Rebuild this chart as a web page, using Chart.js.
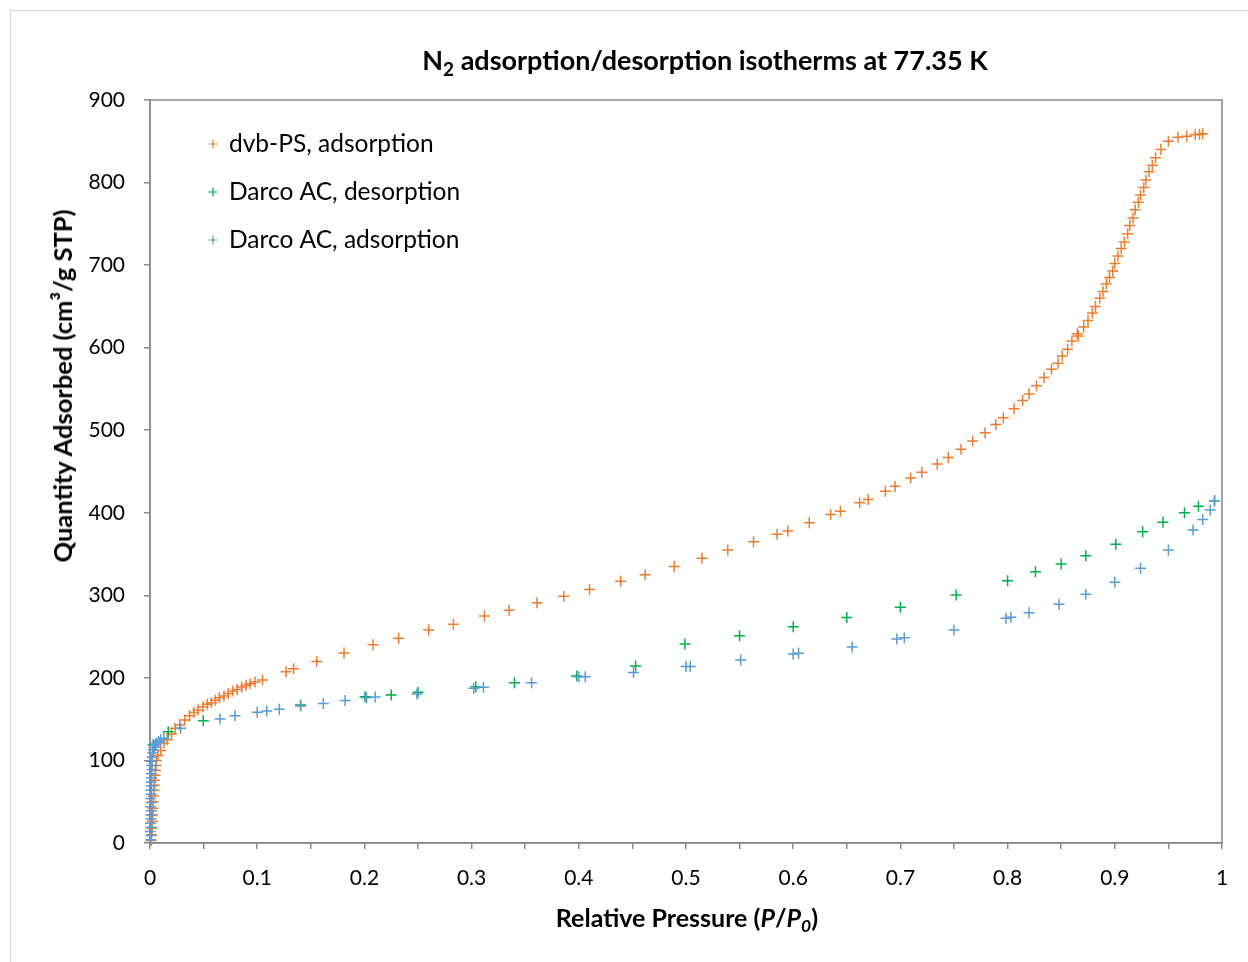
<!DOCTYPE html>
<html lang="en">
<head>
<meta charset="UTF-8" />
<title>N2 adsorption/desorption isotherms at 77.35 K</title>
<script src="https://cdn.jsdelivr.net/npm/chart.js@4.4.1/dist/chart.umd.min.js"></script>
<style>
/* ─── PAGE ───────────────────────────────────────────────────────── */
*,*::before,*::after{box-sizing:border-box}
html,body{margin:0;padding:0;background:#fff;overflow:hidden}
body{width:1248px;height:962px;position:relative;font-family:Lato,sans-serif;color:#000}
.frame{position:absolute;left:10px;top:10px;width:1250px;height:970px;border:1px solid #d9d9d9}
.wrap{position:absolute;left:0;top:0;width:1248px;height:962px}

/* ─── TITLES (html so sub/italic work) ───────────────────────────── */
.title{position:absolute;left:305px;width:800px;top:44px;text-align:center;font-weight:bold;font-size:27px;line-height:32px}
.xtitle{position:absolute;left:387px;width:600px;top:902px;text-align:center;font-weight:bold;font-size:25px;line-height:30px}
.ytitle{position:absolute;left:62px;top:386px;transform:translate(-50%,-50%) rotate(-90deg);white-space:nowrap;font-weight:bold;font-size:25.5px;line-height:30px}
sub{font-size:.7em;vertical-align:-.3em;line-height:0}
</style>
</head>
<body>
<div class="frame"></div>
<div class="wrap"><canvas id="iso"></canvas></div>
<div class="title">N<sub>2</sub> adsorption/desorption isotherms at 77.35 K</div>
<div class="ytitle">Quantity Adsorbed (cm³/g STP)</div>
<div class="xtitle">Relative Pressure (<i>P</i>/<i>P<sub>0</sub></i>)</div>

<script>
/* ── data ──────────────────────────────────────────────────────── */
const seriesNames = ['dvb-PS, adsorption', 'Darco AC, desorption', 'Darco AC, adsorption'];
const seriesColors = ['#ED7D31', '#00B050', '#5B9BD5'];

const dvbX = [0.001,0.0015,0.002,0.0022,0.0025,0.0028,0.003,0.0033,0.0036,0.004,0.0043,0.0047,0.005,0.0055,0.006,0.0075,0.01,0.013,0.016,0.02,
  0.0236,0.0277,0.0324,0.037,0.041,0.0448,0.0494,0.0535,0.0572,0.061,0.0646,0.069,0.073,0.0771,0.0814,0.0855,0.0896,0.0933,0.098,0.105,
  0.127,0.134,0.1555,0.181,0.208,0.232,0.26,0.283,0.312,0.335,0.361,0.386,0.41,0.439,0.462,0.489,0.515,0.539,0.563,0.585,0.595,
  0.615,0.635,0.644,0.662,0.67,0.686,0.695,0.7096,0.72,0.7344,0.7447,0.7565,0.7674,0.779,0.789,0.796,0.806,0.814,0.82,0.827,0.834,
  0.841,0.847,0.851,0.856,0.86,0.865,0.866,0.871,0.875,0.879,0.882,0.886,0.889,0.892,0.895,0.898,0.9,0.903,0.906,0.909,0.912,0.914,
  0.917,0.919,0.922,0.924,0.927,0.929,0.932,0.935,0.938,0.943,0.95,0.959,0.967,0.975,0.979,0.982];
const dvbY = [3,10,18,26,34,42,50,57,64,70,76,82,88,94,100,106,112,121,125,132,
  139,143,149,154,158,161,165,168,170,173,176,178,181,184,186,189,191,193,195,197.5,
  207.5,211,220,230,240,248,258,265,275,282,291,299,307,317,325,335,345,355,365,374,378,
  388,398,402,412,416,426,432,442,449,459,467,477,487,497,507,515,526,536,544,554,564,
  574,581,590,598,608,617,614,625,633,642,650,660,668,677,685,693,702,711,720,728,738,748,
  757,767,776,785,794,803,813,821,830,840,850,855,856,858,858.5,859];

const darcoDesX = [0.993,0.978,0.965,0.945,0.926,0.901,0.873,0.85,0.826,0.8,0.752,0.7,0.65,0.6,0.55,0.499,0.453,0.398,0.34,0.304,
  0.25,0.225,0.2006,0.1405,0.0497,0.017,0.003];
const darcoDesY = [414.6,408,400,388.5,377,362,348,338,328.6,317.7,300.4,285.5,273,262,251,241,214.3,202.2,194.2,189.4,
  182.6,179.3,177.2,167.2,148.1,134.8,119];

const darcoAdsX = [0.0005,0.001,0.0003,0.0008,0.0004,0.001,0.0006,0.0012,0.0005,0.001,0.0007,0.0012,0.0008,0.0013,0.001,0.0015,0.0012,0.0018,0.0015,0.002,0.0018,0.0025,
  0.003,0.004,0.005,0.006,0.008,0.01,0.013,0.0286,0.0653,0.0793,0.1,0.1089,0.1206,0.1405,0.1617,0.182,0.202,0.21,0.249,0.302,0.311,
  0.356,0.4,0.406,0.451,0.5,0.504,0.551,0.6,0.605,0.655,0.6966,0.7036,0.75,0.7985,0.803,0.82,0.848,0.873,0.9,0.924,0.95,0.973,
  0.982,0.989,0.993];
const darcoAdsY = [4,9,14,19,24,29,34,39,44,49,54,59,64,69,74,79,84,89,94,99,104,109,
  113,116,119,121,123,125,127,139,150.2,154.2,158.3,160,162,166,169,172.5,176,177,180.5,187.4,188.6,
  194.2,201.5,201.5,206.4,213.7,213.7,221.7,229,229.9,237.4,247.1,248.6,258,272.1,273.4,279,289.1,301.2,315.7,332.7,354.9,379.1,
  392,403.3,414.6];

const xTickLabels = ['0','0.1','0.2','0.3','0.4','0.5','0.6','0.7','0.8','0.9','1'];
const yTicks = {min:0, max:900, step:100};

/* ── helpers ───────────────────────────────────────────────────── */
const pts = (xs, ys) => xs.map((x, i) => ({x, y: ys[i]}));
const AXIS = '#898989';
const FONT = 'Lato, sans-serif';

/* legend drawn inside the plot, top-left, like the original */
const insideLegend = {
  id: 'insideLegend',
  afterDraw(chart){
    const {ctx, chartArea} = chart;
    ctx.save();
    ctx.font = '24.5px ' + FONT;
    ctx.textBaseline = 'middle';
    ctx.lineWidth = 1.2;
    seriesNames.forEach((name, i) => {
      const mx = chartArea.left + 63, my = chartArea.top + 44 + i * 48;
      ctx.strokeStyle = seriesColors[i];
      ctx.beginPath();
      ctx.moveTo(mx - 4.5, my); ctx.lineTo(mx + 4.5, my);
      ctx.moveTo(mx, my - 4.5); ctx.lineTo(mx, my + 4.5);
      ctx.stroke();
      ctx.fillStyle = '#000';
      ctx.fillText(name, mx + 16, my);
    });
    ctx.restore();
  }
};

/* grey box round the plot area */
const plotFrame = {
  id: 'plotFrame',
  beforeDatasetsDraw(chart){
    const {ctx, chartArea:a} = chart;
    ctx.save();
    ctx.strokeStyle = AXIS;
    ctx.lineWidth = 1.5;
    ctx.strokeRect(a.left, a.top, a.right - a.left, a.bottom - a.top);
    ctx.restore();
  }
};

const mkSet = (i, data, order) => ({
  label: seriesNames[i], data, order,
  pointStyle: 'cross', pointRadius: 5.5, pointBorderWidth: 1.5,
  borderColor: seriesColors[i], backgroundColor: seriesColors[i],
  showLine: false, clip: false
});

new Chart(document.getElementById('iso'), {
  type: 'scatter',
  data: {
    datasets: [
      mkSet(0, pts(dvbX, dvbY), 3),
      mkSet(1, pts(darcoDesX, darcoDesY), 2),
      mkSet(2, pts(darcoAdsX, darcoAdsY), 1)
    ]
  },
  options: {
    responsive: true,
    maintainAspectRatio: false,
    animation: false,
    events: [],
    layout: {padding: {left: 0, top: 100, right: 26, bottom: 0}},
    plugins: {legend: {display: false}, tooltip: {enabled: false}, title: {display: false}},
    scales: {
      x: {
        type: 'linear', min: 0, max: 1,
        afterFit: s => { s.height = 119; },
        border: {display: true, color: AXIS, width: 1.5},
        grid: {drawOnChartArea: false, drawTicks: true, tickLength: 6, color: AXIS, lineWidth: 1.5},
        ticks: {
          stepSize: 0.05, autoSkip: false, maxRotation: 0, padding: 17,
          color: '#000', font: {family: FONT, size: 21},
          callback: (v, i) => i % 2 === 0 ? xTickLabels[i / 2] : ''
        }
      },
      y: {
        type: 'linear', min: yTicks.min, max: yTicks.max,
        afterFit: s => { s.width = 150; },
        border: {display: true, color: AXIS, width: 1.5},
        grid: {drawOnChartArea: false, drawTicks: true, tickLength: 6, color: AXIS, lineWidth: 1.5},
        ticks: {stepSize: yTicks.step, padding: 19, color: '#000', font: {family: FONT, size: 21}}
      }
    }
  },
  plugins: [plotFrame, insideLegend]
});
</script>
</body>
</html>
